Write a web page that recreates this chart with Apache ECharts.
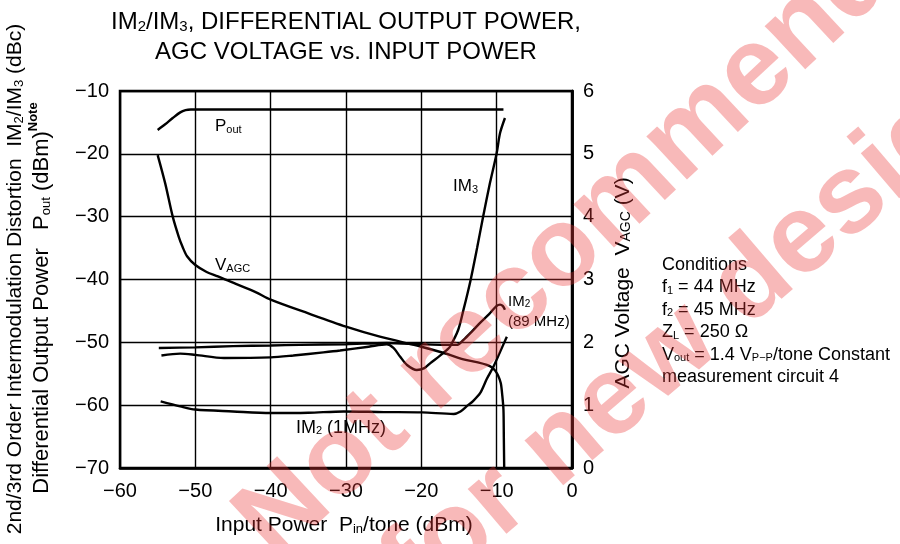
<!DOCTYPE html>
<html><head><meta charset="utf-8">
<script src="https://cdn.jsdelivr.net/npm/echarts@6/dist/echarts.min.js"></script>
<style>html,body{margin:0;padding:0;background:#fff}#c{width:900px;height:544px}</style>
</head><body><div id="c"></div>
<script>
// ---- data ----
const xTickMin = -60, xTickMax = 0, xTickStep = 10;
const leftMin = -70, leftMax = -10, leftStep = 10;
const rightMin = 0, rightMax = 6, rightStep = 1;

const poutX = [-55, -54, -53, -52, -51.3, -50.6, -50, -40, -30, -20, -9.1];
const poutY = [-16.2, -15.3, -14.3, -13.4, -13.05, -12.95, -12.95, -12.95, -12.95, -12.95, -12.95];

const vagcX = [-55, -54, -53, -52.2, -51.7, -51.1, -50, -48.5, -47, -45, -42, -40, -35, -30, -25.5, -20, -17, -14.4, -12.5, -11.3, -10.6, -10.2, -9.8, -9.45, -9.25, -9.1, -9.05, -9.0];
const vagcV = [4.98, 4.53, 4.0, 3.68, 3.52, 3.37, 3.23, 3.12, 3.05, 2.95, 2.80, 2.68, 2.46, 2.25, 2.09, 1.93, 1.83, 1.73, 1.68, 1.64, 1.60, 1.55, 1.47, 1.35, 1.15, 0.93, 0.5, 0];

const im3X = [-54.5, -52, -50, -46.2, -40, -37, -33, -30.8, -27, -24.6, -23.7, -22.8, -21.9, -20.6, -19.6, -18.8, -17.6, -16.6, -16.2, -15.1, -14.4, -13.5, -12.6, -11.8, -10.9, -10.0, -9.55, -8.9];
const im3Y = [-52.1, -51.8, -52.0, -52.5, -52.4, -52.1, -51.6, -51.3, -50.7, -50.3, -50.9, -52.3, -53.6, -54.4, -54.1, -53.3, -52.2, -51.2, -50.7, -48.0, -44.8, -40.3, -35.0, -30.0, -24.7, -19.9, -16.7, -14.3];

const im2hX = [-54.85, -50, -45, -40, -36.1, -30, -24.6, -20, -17, -15.3, -14.4, -13.3, -12.2, -11, -10.0, -9.55, -9.2, -8.9];
const im2hY = [-50.9, -50.8, -50.6, -50.5, -50.4, -50.3, -50.1, -50.3, -50.4, -50.4, -49.6, -48.3, -46.9, -45.5, -44.2, -44.0, -44.2, -44.8];

const im2lX = [-54.6, -52, -50, -45, -40, -35, -30.3, -25, -19.9, -15.7, -14.8, -14.0, -13.1, -12.2, -11.3, -10.4, -9.5, -8.65];
const im2lY = [-59.4, -60.2, -60.7, -61.0, -61.25, -61.2, -61.0, -61.1, -61.15, -61.4, -61.0, -60.2, -59.3, -58.1, -55.8, -53.8, -51.4, -49.1];

const conditions = ['Conditions', '{m|f}{s|1}{m| = 44 MHz}', '{m|f}{s|2}{m| = 45 MHz}', '{m|Z}{s|L}{m| = 250 Ω}', '{m|V}{s|out}{m| = 1.4 V}{s|P−P}{m|/tone Constant}', 'measurement circuit 4'];

// ---- chart ----
const FF = "'Liberation Sans', Arial, Helvetica, sans-serif";
const zip = (a, b) => a.map((v, i) => [v, b[i]]);
const minus = v => String(v).replace('-', '\u2212');

function rich(fs, sfs) {
  return {
    m: { fontSize: fs, fontFamily: FF, fill: '#000', verticalAlign: 'bottom', lineHeight: fs * 1.2 },
    s: { fontSize: sfs, fontFamily: FF, fill: '#000', verticalAlign: 'bottom', lineHeight: fs * 1.2 },
    b: { fontSize: sfs, fontFamily: FF, fill: '#000', fontWeight: 'bold', verticalAlign: 'top', lineHeight: fs * 1.2 }
  };
}
function txt(x, y, text, fs, sfs, opts) {
  opts = opts || {};
  return {
    type: 'text', x: x, y: y, z: 50, rotation: opts.rot || 0,
    style: {
      text: text, rich: rich(fs, sfs), fill: '#000', font: fs + 'px ' + FF,
      textAlign: opts.align || 'left', align: opts.align || 'left',
      textVerticalAlign: 'middle', verticalAlign: 'middle'
    }
  };
}

const line = (name, data, yIdx) => ({
  name: name, type: 'line', data: data, yAxisIndex: yIdx, symbol: 'none',
  smooth: 0.3,
  lineStyle: { color: '#000', width: 2.4 }, z: 5, silent: true, animation: false
});

const graphics = [
  txt(346, 20, '{m|IM}{s|2}{m|/IM}{s|3}{m|, DIFFERENTIAL OUTPUT POWER,}', 24, 15, { align: 'center' }),
  txt(346, 50, '{m|AGC VOLTAGE vs. INPUT POWER}', 24, 15, { align: 'center' }),
  txt(13, 279, '{m|2nd/3rd Order Intermodulation Distortion  IM}{s|2}{m|/IM}{s|3}{m| (dBc)}', 21, 13, { align: 'center', rot: Math.PI / 2 }),
  txt(40, 298, '{m|Differential Output Power   P}{s|out}{m| (dBm)}{b|Note}', 22, 13, { align: 'center', rot: Math.PI / 2 }),
  txt(621, 283, '{m|AGC Voltage  V}{s|AGC}{m| (V)}', 21, 14, { align: 'center', rot: Math.PI / 2 }),
  txt(344, 523, '{m|Input Power  P}{s|in}{m|/tone (dBm)}', 21, 13, { align: 'center' }),
  txt(215, 125, '{m|P}{s|out}', 17, 11),
  txt(215, 264, '{m|V}{s|AGC}', 17, 11),
  txt(453, 185, '{m|IM}{s|3}', 17, 11),
  txt(508, 300, '{m|IM}{s|2}', 15, 10),
  txt(508, 320, '{m|(89 MHz)}', 15, 10),
  txt(296, 426, '{m|IM}{s|2}{m| (1MHz)}', 18, 11)
];
conditions.forEach((c, i) => {
  graphics.push(txt(662, 263 + i * 22.5, c.indexOf('{') === 0 ? c : '{m|' + c + '}', 18, 11));
});
// watermark
const wmStyle = (t) => ({ text: t, font: 'bold 112px ' + FF, fill: 'rgba(235,55,55,0.35)', textAlign: 'left', align: 'left', textVerticalAlign: 'middle', verticalAlign: 'middle' });
graphics.push({ type: 'text', x: 255, y: 540, rotation: 43 * Math.PI / 180, z: 100, silent: true, style: wmStyle('Not recommended') });
graphics.push({ type: 'text', x: 400, y: 584, rotation: 40.5 * Math.PI / 180, z: 100, silent: true, style: wmStyle('for new design') });

const axisCommon = {
  axisLine: { show: true, lineStyle: { color: '#000', width: 2.5 } },
  axisTick: { show: false },
  axisLabel: { color: '#000', fontSize: 20, fontFamily: FF, formatter: minus }
};

const chart = echarts.init(document.getElementById('c'), null, { renderer: 'canvas' });
chart.setOption({
  animation: false,
  backgroundColor: '#fff',
  grid: { left: 120, right: 328, top: 91, bottom: 76, show: true, borderColor: '#000', borderWidth: 2.5, backgroundColor: 'transparent' },
  xAxis: Object.assign({}, axisCommon, {
    type: 'value', min: xTickMin, max: xTickMax, interval: xTickStep,
    axisLabel: Object.assign({}, axisCommon.axisLabel, { margin: 13 }),
    splitLine: { show: true, lineStyle: { color: '#000', width: 1.4 } }
  }),
  yAxis: [
    Object.assign({}, axisCommon, {
      type: 'value', position: 'left', min: leftMin, max: leftMax, interval: leftStep,
      axisLabel: Object.assign({}, axisCommon.axisLabel, { margin: 11 }),
      splitLine: { show: true, lineStyle: { color: '#000', width: 1.4 } }
    }),
    Object.assign({}, axisCommon, {
      type: 'value', position: 'right', min: rightMin, max: rightMax, interval: rightStep,
      axisLabel: Object.assign({}, axisCommon.axisLabel, { margin: 11 }),
      splitLine: { show: false }
    })
  ],
  series: [
    line('Pout', zip(poutX, poutY), 0),
    line('IM3', zip(im3X, im3Y), 0),
    line('IM2 (89 MHz)', zip(im2hX, im2hY), 0),
    line('IM2 (1MHz)', zip(im2lX, im2lY), 0),
    line('VAGC', zip(vagcX, vagcV), 1)
  ],
  graphic: graphics
});
</script></body></html>
